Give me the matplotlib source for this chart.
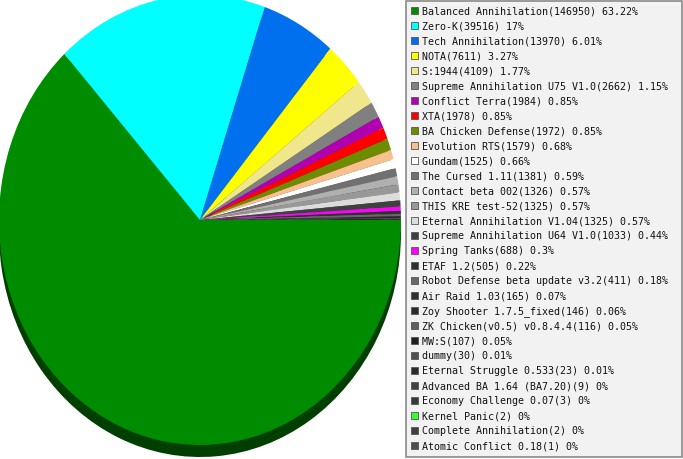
import matplotlib
matplotlib.use("Agg")
import matplotlib.pyplot as plt
from matplotlib.patches import Rectangle
import matplotlib.colors as mcolors

names = ["Balanced Annihilation", "Zero-K", "Tech Annihilation", "NOTA", "S:1944",
         "Supreme Annihilation U75 V1.0", "Conflict Terra", "XTA", "BA Chicken Defense",
         "Evolution RTS", "Gundam", "The Cursed 1.11", "Contact beta 002", "THIS KRE test-52",
         "Eternal Annihilation V1.04", "Supreme Annihilation U64 V1.0", "Spring Tanks",
         "ETAF 1.2", "Robot Defense beta update v3.2", "Air Raid 1.03", "Zoy Shooter 1.7.5_fixed",
         "ZK Chicken(v0.5) v0.8.4.4", "MW:S", "dummy", "Eternal Struggle 0.533",
         "Advanced BA 1.64 (BA7.20)", "Economy Challenge 0.07", "Kernel Panic",
         "Complete Annihilation", "Atomic Conflict 0.18"]
counts = [146950, 39516, 13970, 7611, 4109, 2662, 1984, 1978, 1972, 1579, 1525, 1381, 1326,
          1325, 1325, 1033, 688, 505, 411, 165, 146, 116, 107, 30, 23, 9, 3, 2, 2, 1]
percents = ["63.22", "17", "6.01", "3.27", "1.77", "1.15", "0.85", "0.85", "0.85", "0.68",
            "0.66", "0.59", "0.57", "0.57", "0.57", "0.44", "0.3", "0.22", "0.18", "0.07",
            "0.06", "0.05", "0.05", "0.01", "0.01", "0", "0", "0", "0", "0"]
colors = ["#008c00", "#00ffff", "#0070ee", "#ffff00", "#f0e68c", "#808080", "#b000b0",
          "#ff0000", "#6e8c00", "#f8c08c", "#ffffff", "#707070", "#b0b0b0", "#989898",
          "#dcdcdc", "#404040", "#ff00ff", "#303030", "#686868", "#303030", "#2c2c2c",
          "#606060", "#202020", "#505050", "#2a2a2a", "#404040", "#383838", "#33ff33",
          "#404040", "#505050"]

W, H = 683, 460
fig = plt.figure(figsize=(W / 100, H / 100), dpi=100)
fig.patch.set_facecolor("white")

# pie geometry in pixels (image coords)
cx, cy, rx, ry = 200, 221, 201, 225
depth = 12
ax = fig.add_axes([(cx - rx) / W, (H - (cy + ry)) / H, 2 * rx / W, 2 * ry / H])
ax.set_axis_off()

def darken(c, f=0.45):
    r, g, b = mcolors.to_rgb(c)
    return (r * f, g * f, b * f)

shadow_colors = [darken(c) for c in colors]
ax.pie(counts, colors=shadow_colors, startangle=0, counterclock=False, radius=1,
       center=(0, -depth / ry), wedgeprops=dict(linewidth=0))
ax.pie(counts, colors=colors, startangle=0, counterclock=False, radius=1,
       center=(0, 0), wedgeprops=dict(linewidth=0))
ax.set_aspect("auto")
ax.set_xlim(-1, 1)
ax.set_ylim(-1, 1)
for p in ax.patches:
    p.set_clip_on(False)

# legend
lax = fig.add_axes([0, 0, 1, 1])
lax.set_xlim(0, W)
lax.set_ylim(H, 0)
lax.set_axis_off()
lax.add_patch(Rectangle((405.5, 1.5), 276.5, 456, facecolor="#f2f2f2",
                        edgecolor="#8a8a8a", linewidth=1.2))
row0, step = 11.5, 15
for i, (n, c, p, col) in enumerate(zip(names, counts, percents, colors)):
    y = row0 + step * i
    lax.add_patch(Rectangle((410.5, y - 4), 7.5, 7.5, facecolor=col,
                            edgecolor="#555555", linewidth=0.6))
    lax.text(422.5, y, f"{n}({c}) {p}%", fontsize=7.2, family="DejaVu Sans Mono",
             va="center", ha="left", color="#111111")

fig.savefig("out.png", dpi=100)
